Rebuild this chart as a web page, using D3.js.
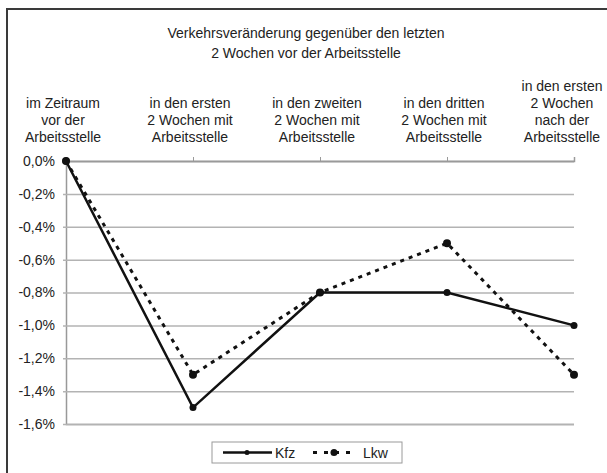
<!DOCTYPE html>
<html>
<head>
<meta charset="utf-8">
<script src="https://cdn.jsdelivr.net/npm/d3@7"></script>
<style>
  body { margin: 0; background: #fff; }
  text { font-family: "Liberation Sans", Arial, sans-serif; fill: #222; }
</style>
</head>
<body>
<div id="chart"></div>
<script>
// data
var categories = ["c1", "c2", "c3", "c4", "c5"];
var categoryLabels = [
  ["im Zeitraum", "vor der", "Arbeitsstelle"],
  ["in den ersten", "2 Wochen mit", "Arbeitsstelle"],
  ["in den zweiten", "2 Wochen mit", "Arbeitsstelle"],
  ["in den dritten", "2 Wochen mit", "Arbeitsstelle"],
  ["in den ersten", "2 Wochen", "nach der", "Arbeitsstelle"]
];
var kfzValues = [0, -1.5, -0.8, -0.8, -1.0];
var lkwValues = [0, -1.3, -0.8, -0.5, -1.3];
var yTicks = [0, -0.2, -0.4, -0.6, -0.8, -1.0, -1.2, -1.4, -1.6];
var titleLines = ["Verkehrsveränderung gegenüber den letzten", "2 Wochen vor der Arbeitsstelle"];

var svgWidth = 607;
var svgHeight = 473;

var margin = { top: 161, right: 33, bottom: 49, left: 66 };
var width = svgWidth - margin.left - margin.right;
var height = svgHeight - margin.top - margin.bottom;

var svg = d3.select("#chart")
  .append("svg")
  .attr("width", svgWidth)
  .attr("height", svgHeight);

// outer frame (right/bottom edge cut off in the original)
svg.append("rect")
  .attr("x", 7)
  .attr("y", 9)
  .attr("width", 640)
  .attr("height", 500)
  .attr("fill", "none")
  .attr("stroke", "#3a3a3a")
  .attr("stroke-width", 2);

// title
svg.append("text")
  .attr("x", 306)
  .attr("y", 38)
  .attr("text-anchor", "middle")
  .attr("font-size", "14px")
  .selectAll("tspan")
  .data(titleLines)
  .enter()
  .append("tspan")
  .attr("x", 306)
  .attr("dy", (d, i) => i === 0 ? 0 : 20)
  .text(d => d);

var chartGroup = svg.append("g")
  .attr("transform", `translate(${margin.left}, ${margin.top})`);

var xScale = d3.scalePoint()
  .domain(categories)
  .range([0, width]);

var yScale = d3.scaleLinear()
  .domain([-1.6, 0])
  .range([height, 0]);

var de = d3.formatLocale({ decimal: ",", thousands: ".", grouping: [3], currency: ["", "€"], minus: "-" });
var pct = de.format(".1f");

// y axis with gridlines
var leftAxis = d3.axisLeft(yScale)
  .tickValues(yTicks)
  .tickSize(-width)
  .tickPadding(11)
  .tickFormat(d => pct(d) + "%");

var yAxis = chartGroup.append("g")
  .call(leftAxis);

yAxis.select(".domain").attr("stroke", "#999").attr("stroke-width", 1.5);
yAxis.selectAll(".tick line")
  .attr("x1", -3)
  .attr("stroke", "#b3b3b3")
  .attr("stroke-width", 1.5);
yAxis.selectAll(".tick text")
  .attr("font-size", "14px")
  .attr("font-family", "Liberation Sans, Arial, sans-serif")
  .attr("fill", "#333");

// category axis sits at 0 %, ticks pointing up
var topAxis = d3.axisTop(xScale)
  .tickSize(4)
  .tickFormat("");

var xAxis = chartGroup.append("g")
  .attr("transform", `translate(0, ${yScale(0)})`)
  .call(topAxis);

xAxis.select(".domain").attr("stroke", "#9a9a9a").attr("stroke-width", 1.5);
xAxis.selectAll(".tick line").attr("stroke", "#9a9a9a");

// multi-line category labels, bottom aligned
var labelGroup = chartGroup.append("g");
categories.forEach(function(c, i) {
  var lines = categoryLabels[i];
  var cx = xScale(c) - 3;
  if (i === categories.length - 1) cx = xScale(c) - 12;
  var t = labelGroup.append("text")
    .attr("text-anchor", "middle")
    .attr("font-size", "14px")
    .attr("y", -19 - (lines.length - 1) * 17);
  lines.forEach(function(l, j) {
    t.append("tspan")
      .attr("x", cx)
      .attr("dy", j === 0 ? 0 : 17)
      .text(l);
  });
});

var line = d3.line()
  .x((d, i) => xScale(categories[i]))
  .y(d => yScale(d));

// Lkw dashed
chartGroup.append("path")
  .datum(lkwValues)
  .attr("d", line)
  .attr("fill", "none")
  .attr("stroke", "#111")
  .attr("stroke-width", 3)
  .attr("stroke-dasharray", "4,5");

chartGroup.selectAll("circle.lkw")
  .data(lkwValues)
  .enter()
  .append("circle")
  .attr("class", "lkw")
  .attr("cx", (d, i) => xScale(categories[i]))
  .attr("cy", d => yScale(d))
  .attr("r", 4)
  .attr("fill", "#111");

// Kfz solid
chartGroup.append("path")
  .datum(kfzValues)
  .attr("d", line)
  .attr("fill", "none")
  .attr("stroke", "#111")
  .attr("stroke-width", 2.5);

chartGroup.selectAll("circle.kfz")
  .data(kfzValues)
  .enter()
  .append("circle")
  .attr("class", "kfz")
  .attr("cx", (d, i) => xScale(categories[i]))
  .attr("cy", d => yScale(d))
  .attr("r", 3.5)
  .attr("fill", "#111");

// legend
var legend = svg.append("g")
  .attr("transform", "translate(212, 442)");

legend.append("rect")
  .attr("width", 190)
  .attr("height", 21)
  .attr("fill", "#fff")
  .attr("stroke", "#9a9a9a");

legend.append("line")
  .attr("x1", 11).attr("x2", 60)
  .attr("y1", 10.5).attr("y2", 10.5)
  .attr("stroke", "#111")
  .attr("stroke-width", 2.5);
legend.append("circle")
  .attr("cx", 35).attr("cy", 10.5).attr("r", 2.5)
  .attr("fill", "#111");
legend.append("text")
  .attr("x", 63).attr("y", 15.5)
  .attr("font-size", "14px")
  .text("Kfz");

legend.append("line")
  .attr("x1", 101).attr("x2", 143)
  .attr("y1", 10.5).attr("y2", 10.5)
  .attr("stroke", "#111")
  .attr("stroke-width", 3)
  .attr("stroke-dasharray", "4,7");
legend.append("circle")
  .attr("cx", 122).attr("cy", 10.5).attr("r", 3.5)
  .attr("fill", "#111");
legend.append("text")
  .attr("x", 151).attr("y", 15.5)
  .attr("font-size", "14px")
  .text("Lkw");
</script>
</body>
</html>
